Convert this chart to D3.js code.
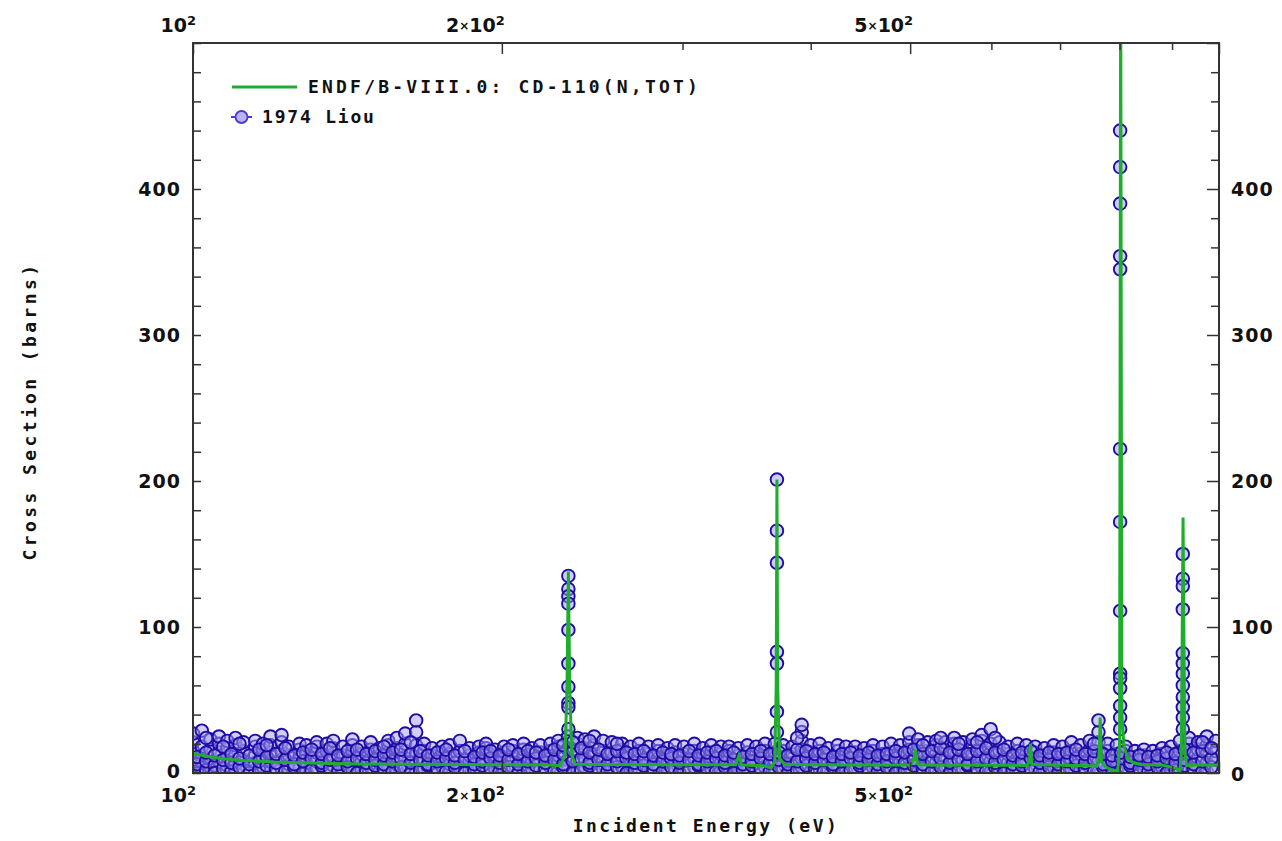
<!DOCTYPE html>
<html>
<head>
<meta charset="utf-8">
<script src="https://cdn.jsdelivr.net/npm/d3@7"></script>
<style>
  body { margin: 0; background: #fff; }
  svg { display: block; }
</style>
</head>
<body>
<div id="chart"></div>
<script>
// ENDF/B-VIII.0 evaluated curve (eV, barns)
const endfE = [100, 103, 107, 112, 120, 130, 145, 160, 180, 200,
  220, 228, 230.5, 231.5, 232.2, 232.9, 234, 236, 250, 300,
  338, 340.5, 342.5, 345, 360, 366, 369, 370.2, 370.8, 371.4,
  373, 377, 400, 450, 500, 504, 506.2, 508.5, 515, 600,
  650, 653.5, 655, 657, 700, 750, 760, 764, 766, 768,
  775, 790, 797, 800, 802, 804, 808, 815, 825, 840,
  880, 910, 916, 919, 922.5, 926, 930, 950, 1000];
const endfXS = [13.5, 11.5, 9.8, 8.6, 7.5, 6.8, 6.2, 6, 5.8, 5.7,
  5.6, 5, 12, 60, 138, 60, 12, 6, 5.8, 5.6,
  5.6, 12, 5.6, 5.4, 5, 3.5, 8, 60, 201, 60,
  10, 6, 5.6, 5.5, 5.5, 9, 16, 6, 5.4, 5.3,
  5.2, 8, 20, 6, 5.3, 5, 4.5, 12, 38, 8,
  4, 1.5, 2, 20, 560, 40, 18, 10, 7, 5.8,
  5.4, 3, 0.8, 15, 175, 15, 5, 5.4, 5.5];

// 1974 Liou measurement: energies and the points seen at each one
const liouE = [100, 102, 104, 106, 108, 110, 112, 115, 117, 119,
  122, 124, 127, 129, 132, 135, 137, 140, 143, 146,
  149, 152, 155, 158, 161, 165, 168, 171, 175, 178,
  182, 186, 190, 193, 197, 201, 205, 210, 214, 218,
  223, 227, 232, 237, 241, 246, 251, 256, 262, 267,
  272, 278, 284, 290, 295, 301, 308, 314, 320, 327,
  333, 340, 347, 354, 361, 369, 376, 384, 392, 400,
  408, 416, 425, 433, 442, 451, 460, 470, 479, 489,
  499, 509, 520, 530, 541, 552, 563, 575, 587, 599,
  611, 623, 636, 649, 662, 676, 690, 704, 718, 733,
  748, 763, 779, 795, 811, 828, 845, 862, 880, 898,
  916, 935, 954, 973, 993];
const liouXS = [
  [3, 9, 15, 21, 27], [1, 7, 12, 18, 29], [4, 10, 16, 23], [2, 8, 14, 20, 25], [5, 11, 17, 22],
  [1, 6, 13, 19, 24], [3, 9, 15, 21], [2, 7, 12, 18, 22], [4, 10, 16, 20], [1, 8, 14, 19, 25],
  [3, 9, 15, 21, 26], [2, 6, 12, 18], [4, 11, 16, 20], [1, 7, 13, 19], [3, 8, 14, 18, 21],
  [2, 9, 15, 20], [5, 11, 17, 22], [1, 6, 12, 18], [3, 9, 15, 19, 23], [2, 8, 13, 18],
  [4, 10, 16, 21], [1, 7, 12, 17], [3, 9, 14, 19, 22], [2, 6, 11, 17, 24], [4, 10, 15, 20, 27],
  [1, 8, 14, 19, 28, 36], [3, 9, 15, 20], [2, 7, 12, 17], [4, 10, 14, 18], [1, 6, 13, 19],
  [3, 9, 15, 22], [2, 8, 12, 17], [4, 9, 14, 18], [1, 7, 13, 17, 20], [3, 8, 12, 16],
  [2, 9, 14, 18], [4, 10, 15, 19], [1, 6, 11, 16, 20], [3, 8, 13, 17], [2, 9, 14, 19],
  [4, 10, 15, 20], [1, 7, 12, 18, 22], [3, 9, 16, 25], [2, 8, 14, 20, 24], [4, 10, 17, 23],
  [1, 7, 13, 19, 25], [3, 9, 15, 22], [2, 8, 14, 21], [4, 10, 16, 20], [1, 6, 12, 18],
  [3, 9, 15, 20], [2, 8, 13, 18], [4, 10, 15, 19], [1, 7, 12, 17], [3, 9, 14, 19],
  [2, 8, 13, 18], [4, 10, 15, 20], [1, 6, 12, 17], [3, 9, 14, 19], [2, 7, 13, 18],
  [4, 10, 15, 18], [1, 8, 12, 17], [3, 9, 14, 19], [2, 7, 13, 18], [4, 10, 15, 20],
  [1, 8, 14, 20], [3, 9, 15, 19], [2, 7, 13, 18], [4, 10, 16, 22, 28, 33], [1, 8, 14, 19],
  [3, 9, 15, 20], [2, 7, 12, 17], [4, 10, 15, 19], [1, 8, 13, 18], [3, 9, 14, 18],
  [2, 7, 12, 17], [4, 10, 15, 19], [1, 8, 13, 18], [3, 9, 14, 20], [2, 7, 13, 19],
  [4, 10, 16, 21, 27], [1, 8, 14, 19, 23], [3, 9, 15, 21], [2, 7, 13, 19, 22], [4, 10, 16, 21],
  [1, 8, 14, 20, 24], [3, 9, 15, 21], [2, 7, 13, 19, 23], [4, 10, 16, 22, 26], [1, 8, 14, 20, 30],
  [3, 9, 15, 21], [2, 7, 13, 18], [4, 10, 15, 20], [1, 8, 13, 19], [3, 9, 14, 18],
  [2, 7, 12, 17], [4, 10, 14, 19], [1, 8, 13, 18], [3, 9, 15, 21], [2, 7, 13, 19],
  [4, 10, 16, 22], [1, 8, 14, 21, 28, 36], [3, 9, 15, 20], [2, 7, 13, 19], [4, 10, 15, 18],
  [1, 6, 11, 15], [3, 8, 12, 16], [2, 7, 11, 15], [4, 9, 13, 17], [1, 6, 12, 18],
  [3, 9, 15, 22], [2, 8, 14, 20, 24], [4, 10, 16, 21], [1, 7, 13, 19, 25], [3, 9, 15, 22]
];
// second pass of the same run, between the energies above
const liouE2 = [101, 103, 105, 107, 109, 111, 113.5, 116, 118, 120.5,
  123, 125.5, 128, 130.5, 133.5, 136, 138.5, 141.5, 144.5, 147.5,
  150.5, 153.5, 156.5, 159.5, 163, 166.5, 169.5, 173, 176.5, 180,
  184, 188, 191.5, 195, 199, 203, 207.5, 212, 216, 220.5,
  225, 229.5, 234.5, 239, 243.5, 248.5, 253.5, 259, 264.5, 269.5,
  275, 281, 287, 292.5, 298, 304.5, 311, 317, 323.5, 330,
  336.5, 343.5, 350.5, 357.5, 365, 372.5, 380, 388, 396, 404,
  412, 420.5, 429, 437.5, 446.5, 455.5, 465, 474.5, 484, 494,
  504, 514.5, 525, 535.5, 546.5, 557.5, 569, 581, 593, 605,
  617, 629.5, 642.5, 655.5, 669, 683, 697, 711, 725.5, 740.5,
  755.5, 771, 787, 803, 819.5, 836.5, 853.5, 871, 889, 907,
  925.5, 944.5, 963.5, 983];
const liouXS2 = [
  [0, 6, 11], [2, 8, 14, 24], [5, 0, 12], [3, 9, 18], [1, 7, 13], [4, 10, 20], [0, 6, 12], [2, 8, 16], [5, 11, 19], [3, 7, 13],
  [1, 9, 17], [4, 6, 12], [0, 8, 14], [2, 10, 16], [5, 7, 13], [3, 9, 17], [1, 6, 12], [4, 8, 15], [0, 10, 16], [2, 7, 13],
  [5, 9, 15], [3, 6, 12, 18], [1, 8, 14], [4, 10, 16], [0, 7, 13, 21], [2, 9, 15], [5, 6, 12], [3, 8, 14], [1, 10, 16], [4, 7, 12],
  [0, 9, 15], [2, 6, 11], [5, 8, 14], [3, 10, 15], [1, 7, 12], [4, 9, 16], [0, 6, 13], [2, 8, 15], [5, 10, 14], [3, 7, 12],
  [1, 9, 16], [4, 6, 13, 19], [0, 8, 15, 21], [2, 10, 17], [5, 7, 14, 22], [3, 9, 16], [1, 6, 13], [4, 8, 15, 20], [0, 10, 14], [2, 7, 13],
  [5, 9, 15], [3, 6, 12], [1, 8, 14], [4, 10, 13], [0, 7, 12], [2, 9, 15], [5, 6, 12], [3, 8, 14], [1, 10, 15], [4, 7, 12],
  [0, 9, 14], [2, 6, 11], [5, 8, 13], [3, 10, 15], [1, 7, 13], [4, 9, 14], [0, 6, 12], [2, 8, 16, 24], [5, 10, 15], [3, 7, 13],
  [1, 9, 14], [4, 6, 11], [0, 8, 13], [2, 10, 14], [5, 7, 12], [3, 9, 14], [1, 6, 12], [4, 8, 13], [0, 10, 15], [2, 7, 14],
  [5, 9, 16], [3, 6, 13, 19], [1, 8, 15], [4, 10, 17, 24], [0, 7, 14], [2, 9, 16, 20], [5, 6, 13], [3, 8, 15, 21], [1, 10, 17], [4, 7, 14, 24],
  [0, 9, 16], [2, 6, 12], [5, 8, 14], [3, 10, 15], [1, 7, 12], [4, 9, 14], [0, 6, 13], [2, 8, 14], [5, 10, 16], [3, 7, 13],
  [1, 9, 15, 20], [4, 6, 13], [0, 8, 12], [2, 10, 14], [5, 7, 11], [3, 9, 12], [1, 6, 11], [4, 8, 12], [0, 10, 14], [2, 7, 13],
  [5, 9, 16], [3, 6, 14], [1, 8, 15, 21], [4, 10, 17]
];
// Liou points on the resonance peaks
const peakE = [232.2, 370.8, 801, 922];
const peakXS = [
  [135, 126, 121, 116, 98, 75, 59, 48, 45, 30],
  [201, 166, 144, 83, 75, 42, 28],
  [440, 415, 390, 354, 345, 222, 172, 111, 68, 65, 58, 46, 38, 30],
  [150, 133, 128, 112, 82, 75, 68, 60, 52, 45, 38, 30]
];

const yLabels = [0, 100, 200, 300, 400];
const xLabels = [{v: 100, m: ""}, {v: 200, m: "2"}, {v: 500, m: "5"}];

const W = 1282, H = 841;
const pL = 193, pR = 1219, pT = 43, pB = 773;

const x = d3.scaleLog().domain([100, 1000]).range([pL, pR]);
const y = d3.scaleLinear().domain([0, 500]).range([pB, pT]);

const svg = d3.select("#chart").append("svg")
    .attr("width", W)
    .attr("height", H);

svg.append("clipPath").attr("id", "plot")
  .append("rect")
    .attr("x", pL).attr("y", pT)
    .attr("width", pR - pL).attr("height", pB - pT);

const tickFont = "'DejaVu Sans', sans-serif";
const monoFont = "'DejaVu Sans Mono', monospace";

// data points
const pts = [];
liouE.forEach((e, i) => liouXS[i].forEach(v => pts.push({e: e, v: v})));
liouE2.forEach((e, i) => (liouXS2[i] || []).forEach(v => pts.push({e: e, v: v})));
peakE.forEach((e, i) => peakXS[i].forEach(v => pts.push({e: e, v: v})));

svg.append("g")
    .attr("clip-path", "url(#plot)")
  .selectAll("circle")
  .data(pts)
  .enter().append("circle")
    .attr("cx", d => x(d.e))
    .attr("cy", d => y(d.v))
    .attr("r", 6.3)
    .attr("fill", "#a29cee")
    .attr("fill-opacity", 0.5)
    .attr("stroke", "#1e0ca6")
    .attr("stroke-width", 1.9);

const line = d3.line()
    .x((d, i) => x(endfE[i]))
    .y(d => y(d));

svg.append("path")
    .datum(endfXS)
    .attr("clip-path", "url(#plot)")
    .attr("fill", "none")
    .attr("stroke", "#1fae2c")
    .attr("stroke-width", 3)
    .attr("d", line);

// axes: ticks point inward
const minorY = d3.range(0, 501, 20);
const xTicks = [100, 200, 300, 400, 500, 600, 700, 800, 900, 1000];
const isMajorX = v => v === 100 || v === 200 || v === 500 || v === 1000;

function styleAxis(g) {
  g.select(".domain").remove();
  g.selectAll("line").attr("stroke", "#333").attr("stroke-width", 1.5);
}

svg.append("g")
    .attr("transform", `translate(${pL},0)`)
    .call(d3.axisLeft(y).tickValues(minorY).tickSize(-8).tickFormat(""))
    .call(styleAxis);
svg.append("g")
    .attr("transform", `translate(${pR},0)`)
    .call(d3.axisRight(y).tickValues(minorY).tickSize(-8).tickFormat(""))
    .call(styleAxis)
    .selectAll("line").attr("x2", d => d % 100 === 0 ? -12 : -8);
svg.append("g")
    .attr("transform", `translate(0,${pT})`)
    .call(d3.axisTop(x).tickValues(xTicks).tickSize(-7).tickFormat(""))
    .call(styleAxis)
    .selectAll("line").attr("y2", d => isMajorX(d) ? 11 : 7);
svg.append("g")
    .attr("transform", `translate(0,${pB})`)
    .call(d3.axisBottom(x).tickValues(xTicks).tickSize(-7).tickFormat(""))
    .call(styleAxis)
    .selectAll("line").attr("y2", d => isMajorX(d) ? -11 : -7);

// frame
svg.append("rect")
    .attr("x", pL).attr("y", pT)
    .attr("width", pR - pL).attr("height", pB - pT)
    .attr("fill", "none")
    .attr("stroke", "#333")
    .attr("stroke-width", 2);

// y tick labels on both sides
svg.append("g").selectAll("text")
  .data(yLabels)
  .enter().append("text")
    .attr("x", pL - 12)
    .attr("y", d => y(d) + (d === 0 ? 5 : 7))
    .attr("text-anchor", "end")
    .attr("font-family", tickFont)
    .attr("font-weight", "bold")
    .attr("font-size", 19)
    .attr("letter-spacing", 1)
    .attr("fill", "#111")
    .text(d => d);
svg.append("g").selectAll("text")
  .data(yLabels)
  .enter().append("text")
    .attr("x", pR + 12)
    .attr("y", d => y(d) + 7 + (d === 0 ? 1 : 0))
    .attr("font-family", tickFont)
    .attr("font-weight", "bold")
    .attr("font-size", 19)
    .attr("letter-spacing", 1)
    .attr("fill", "#111")
    .text(d => d);

// x tick labels, top and bottom
[32, 802].forEach(ty => {
  const t = svg.append("g").selectAll("text")
    .data(xLabels)
    .enter().append("text")
      .attr("x", d => x(d.v) + 3)
      .attr("y", ty)
      .attr("text-anchor", "end")
      .attr("font-family", tickFont)
      .attr("font-weight", "bold")
      .attr("font-size", 19)
      .attr("fill", "#111");
  t.append("tspan").text(d => d.m);
  t.append("tspan").attr("font-size", 12).attr("dy", -2).text(d => d.m ? "\u00d7" : "");
  t.append("tspan").attr("dy", d => d.m ? 2 : 0).text("10");
  t.append("tspan").attr("font-size", 13).attr("dy", -7).text("2");
});

// axis titles
svg.append("text")
    .attr("x", (pL + pR) / 2)
    .attr("y", 832)
    .attr("text-anchor", "middle")
    .attr("font-family", monoFont)
    .attr("font-weight", "bold")
    .attr("font-size", 18)
    .attr("letter-spacing", 2.5)
    .attr("fill", "#111")
    .text("Incident Energy (eV)");
svg.append("text")
    .attr("transform", "translate(36,411) rotate(-90)")
    .attr("text-anchor", "middle")
    .attr("font-family", monoFont)
    .attr("font-weight", "bold")
    .attr("font-size", 18)
    .attr("letter-spacing", 3.4)
    .attr("fill", "#111")
    .text("Cross Section (barns)");

// legend
const legend = svg.append("g");
legend.append("line")
    .attr("x1", 232).attr("x2", 297).attr("y1", 87).attr("y2", 87)
    .attr("stroke", "#1fae2c").attr("stroke-width", 3);
legend.append("text")
    .attr("x", 308).attr("y", 93)
    .attr("font-family", monoFont)
    .attr("font-weight", "bold")
    .attr("font-size", 18)
    .attr("letter-spacing", 3.2)
    .attr("fill", "#111")
    .text("ENDF/B-VIII.0: CD-110(N,TOT)");
legend.append("line")
    .attr("x1", 231).attr("x2", 252).attr("y1", 117).attr("y2", 117)
    .attr("stroke", "#4a3ad0").attr("stroke-width", 2);
legend.append("circle")
    .attr("cx", 241.5).attr("cy", 117).attr("r", 6)
    .attr("fill", "#b8b4f2")
    .attr("stroke", "#4a3ad0")
    .attr("stroke-width", 1.8);
legend.append("text")
    .attr("x", 262).attr("y", 123)
    .attr("font-family", monoFont)
    .attr("font-weight", "bold")
    .attr("font-size", 18)
    .attr("letter-spacing", 1.8)
    .attr("fill", "#111")
    .text("1974 Liou");
</script>
</body>
</html>
